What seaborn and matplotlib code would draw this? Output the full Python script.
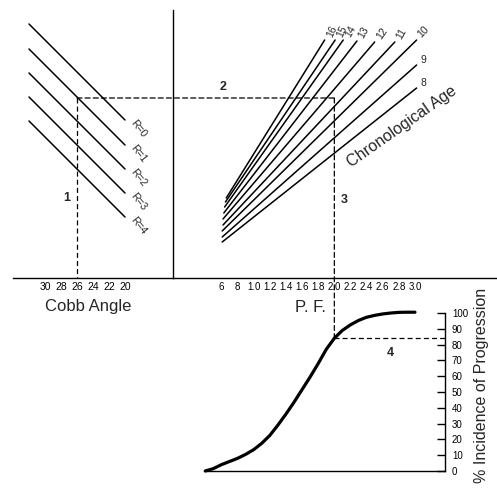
import matplotlib.pyplot as plt
import seaborn as sns
import pandas as pd
from matplotlib.patches import ConnectionPatch

sns.set_theme(style="white")
plt.rcParams["font.family"] = ["Liberation Sans", "DejaVu Sans"]

# panneau 1 : angle de Cobb -> droites R
cobb_ticks = [30, 28, 26, 24, 22, 20, 18, 16]
cobb_labels = ["30", "28", "26", "24", "22", "20", "", ""]
r_names = ["R=0", "R=1", "R=2", "R=3", "R=4"]
r_cobb = [32, 20]
r_z_start = [25.4, 22.9, 20.5, 18.1, 15.7]
r_z_end = [15.8, 13.3, 10.9, 8.5, 6.1]

# panneaux 2/3 : P.F. -> droites d'age chronologique
pf_ticks = [0.6, 0.8, 1.0, 1.2, 1.4, 1.6, 1.8, 2.0, 2.2, 2.4, 2.6, 2.8, 3.0]
pf_labels = ["6", "8", "1.0", "1.2", "1.4", "1.6", "1.8", "2.0", "2.2", "2.4", "2.6", "2.8", "3.0"]
ages = ["16", "15", "14", "13", "12", "11", "10", "9", "8"]
age_pf_start = [0.66, 0.65, 0.64, 0.63, 0.62, 0.62, 0.61, 0.61, 0.61]
age_z_start = [8.0, 7.6, 7.1, 6.5, 5.9, 5.3, 4.7, 4.1, 3.6]
age_pf_end = [1.88, 2.01, 2.11, 2.28, 2.50, 2.75, 3.02, 3.02, 3.02]
age_z_end = [23.8, 23.8, 23.8, 23.7, 23.6, 23.6, 23.8, 21.3, 19.0]

# panneau 4 : % incidence de progression
curve_pf = [0.4, 0.5, 0.6, 0.7, 0.8, 0.9, 1.0, 1.1, 1.2, 1.3, 1.4, 1.5, 1.6, 1.7,
            1.8, 1.9, 2.0, 2.1, 2.2, 2.3, 2.4, 2.5, 2.6, 2.7, 2.8, 2.9, 3.0]
curve_inc = [0, 1.5, 4, 6, 8, 10.5, 13.5, 17.5, 22.5, 29, 36, 43.5, 51.5, 59.5,
             68, 77, 84, 89, 92.5, 95.3, 97.3, 98.5, 99.4, 100, 100.4, 100.5, 100.5]
inc_ticks = [0, 10, 20, 30, 40, 50, 60, 70, 80, 90, 100]

# exemple (chemin en pointilles)
ex_cobb = 26
ex_z = 18.0
ex_pf = 2.0
ex_inc = 84

W, H = 497, 492
fig = plt.figure(figsize=(W / 100, H / 100), dpi=100)
fig.patch.set_facecolor("white")

ax_l = fig.add_axes([13 / W, (H - 278) / H, 160 / W, 268 / H])
ax_r = fig.add_axes([173 / W, (H - 278) / H, 324 / W, 268 / H])
ax_b = fig.add_axes([205 / W, (H - 471) / H, 240 / W, 158 / H])

for ax in (ax_l, ax_r, ax_b):
    ax.set_facecolor("none")
    for s in ax.spines.values():
        s.set_color("black")
        s.set_linewidth(1.0)
        s.set_visible(False)
    ax.tick_params(colors="black", labelcolor="black")

dash = dict(color="black", lw=0.9, linestyle=(0, (4, 2.5)))

# --- panneau gauche
rows = []
for name, z0, z1 in zip(r_names, r_z_start, r_z_end):
    rows.append({"R": name, "cobb": r_cobb[0], "z": z0})
    rows.append({"R": name, "cobb": r_cobb[1], "z": z1})
df_r = pd.DataFrame(rows)
sns.lineplot(data=df_r, x="cobb", y="z", units="R", estimator=None, sort=False,
             color="black", lw=1.1, ax=ax_l)
for name, z1 in zip(r_names, r_z_end):
    ax_l.annotate(name, (r_cobb[1], z1), xytext=(9.4, -6.5), textcoords="offset points",
                  rotation=-52, fontsize=7.5, ha="center", va="center")

ax_l.set_xlim(34, 14)
ax_l.set_ylim(0, 26.8)
ax_l.spines["bottom"].set_visible(True)
ax_l.spines["right"].set_visible(True)
ax_l.set_xticks(cobb_ticks)
ax_l.set_xticklabels(cobb_labels, fontsize=7.5)
ax_l.set_yticks([])
ax_l.tick_params(axis="x", direction="in", length=5, width=1, pad=3)
ax_l.set_xlabel("")
ax_l.set_ylabel("")
ax_l.plot([ex_cobb, ex_cobb], [ex_z, 0], **dash)
ax_l.text(27.3, 8.0, "1", fontsize=9, fontweight="bold", ha="center", va="center")
ax_l.text(24.6, -2.9, "Cobb Angle", fontsize=12, ha="center", va="center", clip_on=False)

# --- panneau droit
rows = []
for a, x0, z0, x1, z1 in zip(ages, age_pf_start, age_z_start, age_pf_end, age_z_end):
    rows.append({"age": a, "pf": x0, "z": z0})
    rows.append({"age": a, "pf": x1, "z": z1})
df_age = pd.DataFrame(rows)
sns.lineplot(data=df_age, x="pf", y="z", units="age", estimator=None, sort=False,
             color="black", lw=1.1, ax=ax_r)
age_rot = [65, 65, 60, 60, 55, 60, 45, 0, 0]
for a, x1, z1, rot in zip(ages, age_pf_end, age_z_end, age_rot):
    dy = 5.8 if rot else 3.6
    ax_r.annotate(a, (x1, z1), xytext=(5, dy), textcoords="offset points",
                  rotation=rot, fontsize=7.5, ha="center", va="center")

ax_r.set_xlim(0, 324 / 80.67)
ax_r.set_ylim(0, 26.8)
ax_r.spines["bottom"].set_visible(True)
ax_r.set_xticks(pf_ticks)
ax_r.set_xticklabels(pf_labels, fontsize=7)
ax_r.set_yticks([])
ax_r.tick_params(axis="x", direction="in", length=5, width=1, pad=3)
ax_r.set_xlabel("")
ax_r.set_ylabel("")
ax_r.text(0.62, 19.1, "2", fontsize=9, fontweight="bold", ha="center", va="center")
ax_r.text(2.12, 7.8, "3", fontsize=9, fontweight="bold", ha="center", va="center")
ax_r.text(1.70, -2.9, "P. F.", fontsize=12, ha="center", va="center", clip_on=False)
ax_r.text(2.84, 15.1, "Chronological Age", fontsize=11.5, rotation=35,
          ha="center", va="center")

# --- panneau bas
sns.lineplot(x=curve_pf, y=curve_inc, color="black", lw=2.3, ax=ax_b)
for ln in ax_b.lines:
    ln.set_clip_on(False)
ax_b.set_xlim(0.397, 3.372)
ax_b.set_ylim(0, 100)
ax_b.spines["bottom"].set_visible(True)
ax_b.spines["right"].set_visible(True)
ax_b.set_xticks([])
ax_b.yaxis.tick_right()
ax_b.set_yticks(inc_ticks)
ax_b.set_yticklabels([str(v) for v in inc_ticks], fontsize=7)
ax_b.tick_params(axis="y", direction="in", length=6, width=1, pad=5)
ax_b.set_xlabel("")
ax_b.set_ylabel("")
ax_b.plot([ex_pf, 3.372], [ex_inc, ex_inc], clip_on=False, **dash)
ax_b.text(2.69, 75, "4", fontsize=9, fontweight="bold", ha="center", va="center")
ax_b.text(3.83, 54, "% Incidence of Progression", fontsize=11.5, rotation=90,
          ha="center", va="center", clip_on=False)

# chemin en pointilles entre panneaux
fig.add_artist(ConnectionPatch(xyA=(ex_cobb, ex_z), coordsA=ax_l.transData,
                               xyB=(ex_pf, ex_z), coordsB=ax_r.transData, **dash))
fig.add_artist(ConnectionPatch(xyA=(ex_pf, ex_z), coordsA=ax_r.transData,
                               xyB=(ex_pf, ex_inc), coordsB=ax_b.transData, **dash))

fig.savefig("out.png", dpi=100, facecolor="white")
